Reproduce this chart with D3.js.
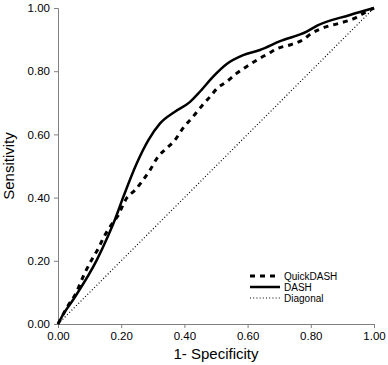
<!doctype html>
<html>
<head>
    <meta charset="utf-8">
    <title>ROC</title>
    <style>
        body { margin: 0; background: #fff; }
        svg { display: block; font-family: "Liberation Sans", Arial, sans-serif; }
        .axis path, .axis line { stroke: #808080; }
        .axis text { font-size: 11.5px; fill: #000; }
    </style>
    <script src="https://cdnjs.cloudflare.com/ajax/libs/d3/7.8.5/d3.min.js"></script>
</head>
<body>
    <svg width="388" height="365"></svg>
    <script>
        // values (1-specificity, sensitivity)
        var dashX = [0, 0.012, 0.05, 0.123, 0.159, 0.18, 0.207, 0.249, 0.286, 0.323, 0.37, 0.418, 0.449, 0.491, 0.534, 0.586, 0.639, 0.703, 0.787, 0.82, 0.924, 1];
        var dashY = [0, 0.023, 0.08, 0.203, 0.28, 0.33, 0.403, 0.508, 0.582, 0.635, 0.672, 0.703, 0.735, 0.783, 0.823, 0.851, 0.867, 0.895, 0.925, 0.944, 0.978, 1];

        var quickX = [0, 0.033, 0.054, 0.085, 0.106, 0.128, 0.143, 0.165, 0.188, 0.217, 0.244, 0.265, 0.291, 0.317, 0.344, 0.37, 0.395, 0.428, 0.455, 0.481, 0.503, 0.534, 0.565, 0.602, 0.634, 0.666, 0.697, 0.734, 0.774, 0.803, 0.85, 0.892, 0.94, 0.977, 1];
        var quickY = [0, 0.060, 0.092, 0.162, 0.202, 0.24, 0.271, 0.308, 0.34, 0.398, 0.424, 0.45, 0.487, 0.53, 0.556, 0.582, 0.619, 0.657, 0.69, 0.719, 0.745, 0.767, 0.793, 0.818, 0.838, 0.856, 0.873, 0.883, 0.899, 0.92, 0.941, 0.952, 0.968, 0.989, 1];

        var diagX = [0, 1];
        var diagY = [0, 1];

        var tickVals = [0, 0.2, 0.4, 0.6, 0.8, 1];
        var legendNames = ["QuickDASH", "DASH", "Diagonal"];

        var svg = d3.select("svg"),
            margin = { top: 8, right: 14, bottom: 41, left: 58 },
            width = +svg.attr("width") - margin.left - margin.right,
            height = +svg.attr("height") - margin.top - margin.bottom;

        var x = d3.scaleLinear().domain([0, 1]).range([0, width]),
            y = d3.scaleLinear().domain([0, 1]).range([height, 0]);

        var g = svg.append("g")
            .attr("transform", "translate(" + margin.left + "," + margin.top + ")");

        g.append("g")
            .attr("class", "axis axis--x")
            .attr("transform", "translate(0," + height + ")")
            .call(d3.axisBottom(x).tickValues(tickVals).tickFormat(d3.format(".2f")).tickSizeOuter(0).tickSize(4).tickPadding(4));

        g.append("g")
            .attr("class", "axis axis--y")
            .call(d3.axisLeft(y).tickValues(tickVals).tickFormat(d3.format(".2f")).tickSizeOuter(0).tickSize(4).tickPadding(4));

        svg.append("text")
            .attr("x", margin.left + width / 2)
            .attr("y", 359)
            .attr("text-anchor", "middle")
            .style("font-size", "15px")
            .text("1- Specificity");

        svg.append("text")
            .attr("transform", "translate(14," + (margin.top + height / 2) + ") rotate(-90)")
            .attr("text-anchor", "middle")
            .style("font-size", "15px")
            .text("Sensitivity");

        function pts(xs, ys) {
            return xs.map(function (d, i) { return [d, ys[i]]; });
        }

        var line = d3.line()
            .x(function (d) { return x(d[0]); })
            .y(function (d) { return y(d[1]); })
            .curve(d3.curveMonotoneX);

        var series = [
            { data: pts(quickX, quickY), width: 3, dash: "5,5" },
            { data: pts(dashX, dashY), width: 2.5, dash: null },
            { data: pts(diagX, diagY), width: 1.2, dash: "1,2.2" }
        ];

        g.selectAll(".series")
            .data(series)
            .enter().append("path")
            .attr("class", "series")
            .attr("fill", "none")
            .attr("stroke", "#000")
            .attr("stroke-width", function (d) { return d.width; })
            .attr("stroke-dasharray", function (d) { return d.dash; })
            .attr("d", function (d) { return line(d.data); });

        var legend = svg.append("g").attr("transform", "translate(250,276)");
        var items = legend.selectAll("g")
            .data(series)
            .enter().append("g")
            .attr("transform", function (d, i) { return "translate(0," + (i * 11) + ")"; });
        items.append("line")
            .attr("x1", 0).attr("x2", 30)
            .attr("stroke", "#000")
            .attr("stroke-width", function (d) { return d.width; })
            .attr("stroke-dasharray", function (d) { return d.dash; });
        items.append("text")
            .attr("x", 34)
            .attr("dy", "0.35em")
            .style("font-size", "10px")
            .text(function (d, i) { return legendNames[i]; });
    </script>
</body>
</html>
